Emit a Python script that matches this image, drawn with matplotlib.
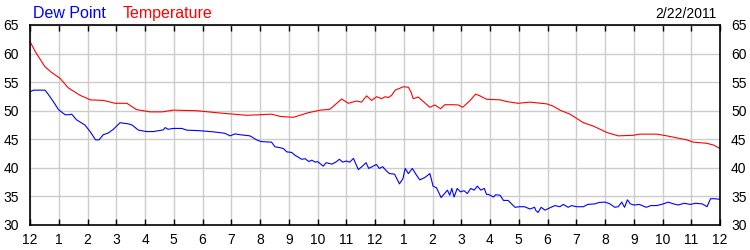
import matplotlib
matplotlib.use("Agg")
import matplotlib.pyplot as plt

plt.rcParams['font.family'] = ['Liberation Sans', 'DejaVu Sans']

# hours since midnight, temperature (F)
temp_hours = [0.0, 0.2, 0.52, 0.75, 1.04, 1.33, 1.74, 2.1, 2.55, 2.96, 3.37, 3.7, 4.17, 4.6,
              4.98, 5.8, 6.6, 7.54, 8.0, 8.4, 8.7, 9.16, 9.68, 10.1, 10.43, 10.84, 11.07,
              11.36, 11.53, 11.71, 11.88, 12.06, 12.23, 12.35, 12.46, 12.58, 12.7, 12.99,
              13.16, 13.25, 13.33, 13.5, 13.68, 13.91, 14.08, 14.28, 14.43, 14.72, 14.9,
              15.05, 15.3, 15.5, 15.65, 15.88, 16.35, 16.58, 16.98, 17.39, 17.97, 18.2,
              18.43, 18.78, 19.25, 19.6, 20.06, 20.46, 20.99, 21.2, 21.8, 22.15, 22.84,
              23.07, 23.54, 23.77, 24.0]
temperature = [62.1, 60.2, 57.7, 56.7, 55.7, 54.0, 52.7, 51.9, 51.8, 51.3, 51.3, 50.2, 49.8, 49.8,
               50.1, 50.0, 49.6, 49.2, 49.3, 49.4, 49.0, 48.85, 49.65, 50.1, 50.25, 52.05, 51.3,
               51.7, 51.5, 52.6, 51.8, 52.45, 52.1, 52.45, 52.3, 52.7, 53.6, 54.2,
               54.1, 53.3, 52.1, 52.4, 51.6, 50.6, 51.0, 50.35, 51.05, 51.05, 51.0,
               50.6, 51.75, 52.9, 52.6, 52.0, 51.9, 51.6, 51.3, 51.5, 51.2, 50.8,
               50.1, 49.4, 47.9, 47.3, 46.2, 45.6, 45.7, 45.9, 45.9, 45.6, 44.9,
               44.5, 44.3, 44.0, 43.4]

# hours since midnight, dew point (F)
dew_hours = [0.0, 0.12, 0.52, 0.63, 0.81, 0.99, 1.22, 1.38, 1.45, 1.62, 1.91, 2.09, 2.28, 2.4,
             2.55, 2.72, 2.9, 3.13, 3.42, 3.55, 3.77, 4.06, 4.29, 4.64, 4.7, 4.8, 4.99, 5.28,
             5.45, 5.91, 6.38, 6.78, 6.96, 7.13, 7.3, 7.65, 7.88, 8.04, 8.4, 8.52, 8.81,
             8.93, 9.1, 9.22, 9.45, 9.57, 9.7, 9.8, 9.92, 10.0, 10.2, 10.3, 10.5, 10.65,
             10.76, 10.88, 11.0, 11.12, 11.25, 11.42, 11.54, 11.69, 11.78, 11.9, 12.05,
             12.15, 12.27, 12.39, 12.5, 12.68, 12.85, 12.97, 13.05, 13.16, 13.3, 13.42,
             13.56, 13.73, 13.91, 14.02, 14.14, 14.3, 14.42, 14.52, 14.6, 14.67, 14.75,
             14.86, 14.97, 15.1, 15.21, 15.33, 15.45, 15.56, 15.68, 15.8, 15.88, 15.95,
             16.12, 16.2, 16.35, 16.47, 16.63, 16.87, 17.03, 17.2, 17.39, 17.55, 17.6,
             17.67, 17.78, 17.91, 18.08, 18.26, 18.43, 18.55, 18.72, 18.84, 19.0, 19.25,
             19.4, 19.65, 19.8, 20.0, 20.17, 20.34, 20.46, 20.58, 20.68, 20.78, 20.88,
             21.0, 21.2, 21.43, 21.6, 21.8, 22.03, 22.2, 22.38, 22.55, 22.75, 22.97,
             23.15, 23.38, 23.55, 23.67, 23.8, 24.0]
dew_point = [53.3, 53.6, 53.6, 52.9, 51.6, 50.2, 49.3, 49.3, 49.4, 48.4, 47.5, 46.35, 44.9, 44.9,
             45.8, 46.1, 46.75, 47.9, 47.7, 47.5, 46.6, 46.35, 46.35, 46.65, 47.05, 46.75, 46.9, 46.9,
             46.6, 46.5, 46.3, 46.05, 45.6, 45.95, 45.8, 45.6, 44.9, 44.6, 44.5, 43.7, 43.4,
             42.8, 42.7, 42.2, 41.5, 41.6, 41.1, 41.35, 41.0, 41.1, 40.3, 40.9, 40.65, 41.05,
             41.5, 41.0, 41.2, 41.0, 41.65, 39.7, 40.2, 40.9, 39.9, 40.2, 40.6,
             39.9, 40.2, 39.5, 39.0, 38.9, 37.2, 38.1, 39.9, 39.0, 39.9, 38.9,
             37.9, 38.3, 39.0, 36.8, 36.5, 34.8, 35.5, 36.1, 35.2, 36.4, 34.9,
             36.4, 35.8, 36.0, 35.5, 36.4, 36.1, 36.8, 36.1, 36.4, 35.35, 35.35,
             34.9, 35.3, 35.2, 34.3, 34.3, 33.1, 33.2, 33.2, 32.8, 33.1, 32.5,
             32.2, 33.1, 32.6, 33.0, 33.4, 33.2, 33.6, 33.1, 33.4, 33.2, 33.2,
             33.6, 33.7, 33.95, 34.0, 33.7, 33.1, 33.2, 34.0, 33.1, 34.4, 33.7,
             33.5, 33.6, 33.1, 33.4, 33.4, 33.7, 34.0, 33.7, 33.5, 33.8, 33.6,
             33.8, 33.7, 33.2, 34.6, 34.6, 34.5]

hour_labels = ['12', '1', '2', '3', '4', '5', '6', '7', '8', '9', '10', '11',
               '12', '1', '2', '3', '4', '5', '6', '7', '8', '9', '10', '11', '12']
y_ticks = [30, 35, 40, 45, 50, 55, 60, 65]

fig = plt.figure(figsize=(7.5, 2.5), dpi=100)
ax = fig.add_axes([30 / 750, 25 / 250, 690 / 750, 200 / 250])

ax.plot(temp_hours, temperature, color='#ff0000', lw=0.8)
ax.plot(dew_hours, dew_point, color='#0000ff', lw=0.8)

ax.set_xlim(0, 24)
ax.set_ylim(30, 65)
ax.set_xticks(range(25))
ax.set_xticklabels(hour_labels)
ax.set_yticks(y_ticks)
ax.grid(True, color='#cccccc', lw=1)
ax.set_axisbelow(True)

ax.tick_params(axis='x', direction='in', length=4, width=1, top=True, bottom=True,
               labelsize=10, pad=6, color='black')
ax.tick_params(axis='y', length=0, left=True, right=True, labelleft=True, labelright=True,
               labelsize=10, pad=8)
for s in ax.spines.values():
    s.set_linewidth(1.2)
    s.set_color('black')

fig.text(33 / 750, 1 - 18 / 250, 'Dew Point', color='#0000ff', fontsize=11.5)
fig.text(123 / 750, 1 - 18 / 250, 'Temperature', color='#ff0000', fontsize=11.5)
fig.text(717 / 750, 1 - 18 / 250, '2/22/2011', color='black', fontsize=10, ha='right')

fig.savefig('out.png', dpi=100)
